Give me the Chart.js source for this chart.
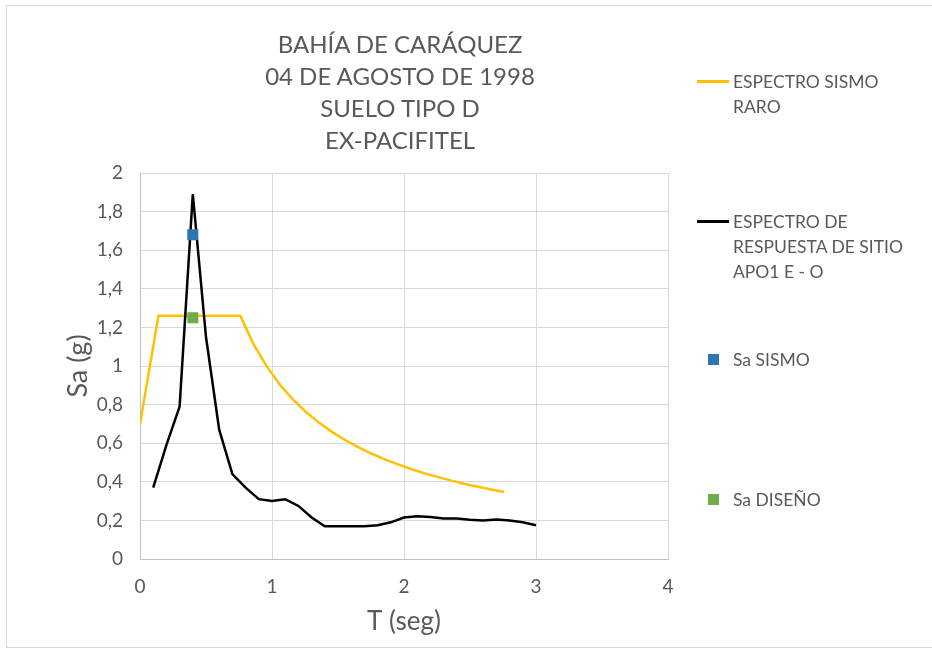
<!DOCTYPE html>
<html>
<head>
<meta charset="utf-8">
<script src="https://cdn.jsdelivr.net/npm/chart.js@4.4.1/dist/chart.umd.min.js"></script>
<style>
  html, body { margin: 0; padding: 0; background: #fff; overflow: hidden; }
  body { width: 932px; height: 651px; position: relative; font-family: Lato, "Open Sans", sans-serif; color: #595959; }
  #frame { position: absolute; left: 6px; top: 5px; width: 960px; height: 643px; border: 1px solid #d9d9d9; box-sizing: border-box; }
  #wrap { position: absolute; left: 0; top: 0; width: 932px; height: 651px; }
  #title { position: absolute; left: 200px; width: 400px; top: 28px; text-align: center; font-size: 24px; line-height: 32px; }
  .leg { position: absolute; left: 697px; font-size: 17.5px; line-height: 25px; }
  .leg .txt { position: absolute; left: 36px; top: 0; white-space: nowrap; }
  .leg .ln { position: absolute; left: 0; top: 11px; width: 32px; height: 2.5px; }
  .leg .sq { position: absolute; left: 11px; top: 7px; width: 11px; height: 11px; }
</style>
</head>
<body>
<div id="frame"></div>
<div id="wrap"><canvas id="chart" width="932" height="651"></canvas></div>
<div id="title">BAHÍA DE CARÁQUEZ<br>04 DE AGOSTO DE 1998<br>SUELO TIPO D<br>EX-PACIFITEL</div>
<div id="legend"></div>
<script>
// Espectro de diseño (sismo raro), NEC suelo tipo D
const rareT = [0, 0.14, 0.76, 0.86, 0.96, 1.06, 1.16, 1.26, 1.36, 1.46, 1.56, 1.66, 1.76,
  1.86, 1.96, 2.06, 2.16, 2.26, 2.36, 2.46, 2.56, 2.66, 2.76];
const rareSa = [0.70, 1.26, 1.26, 1.113, 0.998, 0.903, 0.826, 0.760, 0.704, 0.656, 0.614, 0.577, 0.544,
  0.515, 0.489, 0.465, 0.443, 0.424, 0.406, 0.389, 0.374, 0.360, 0.347];

// Espectro de respuesta del sitio, registro APO1 componente E - O
const siteT = [0.1, 0.2, 0.3, 0.4, 0.5, 0.6, 0.7, 0.8, 0.9, 1.0, 1.1, 1.2, 1.3, 1.4, 1.5,
  1.6, 1.7, 1.8, 1.9, 2.0, 2.1, 2.2, 2.3, 2.4, 2.5, 2.6, 2.7, 2.8, 2.9, 3.0];
const siteSa = [0.37, 0.59, 0.79, 1.89, 1.15, 0.67, 0.44, 0.37, 0.31, 0.30, 0.31, 0.275, 0.215, 0.17, 0.17,
  0.17, 0.17, 0.175, 0.19, 0.215, 0.222, 0.218, 0.21, 0.21, 0.203, 0.199, 0.205, 0.20, 0.19, 0.175];

// Puntos de control en T = 0,4 s
const sismoPoint = [0.4, 1.68];
const disenoPoint = [0.4, 1.25];

const xTicks = [0, 1, 2, 3, 4];
const yTicks = [0, 0.2, 0.4, 0.6, 0.8, 1, 1.2, 1.4, 1.6, 1.8, 2];

const gray = '#595959';
const toXY = (xs, ys) => xs.map((x, i) => ({ x: x, y: ys[i] }));
const comma = v => String(Math.round(v * 10) / 10).replace('.', ',');

const datasets = [
  { label: 'ESPECTRO SISMO RARO', data: toXY(rareT, rareSa), showLine: true, borderColor: '#FFC000',
    borderWidth: 2.5, pointRadius: 0, order: 3 },
  { label: 'ESPECTRO DE RESPUESTA DE SITIO APO1 E - O', data: toXY(siteT, siteSa), showLine: true,
    borderColor: '#000000', borderWidth: 2.5, pointRadius: 0, order: 2 },
  { label: 'Sa SISMO', data: [{ x: sismoPoint[0], y: sismoPoint[1] }], pointStyle: 'rect', pointRadius: 7.8,
    backgroundColor: '#2E75B6', borderColor: '#2E75B6', borderWidth: 0, order: 1 },
  { label: 'Sa DISEÑO', data: [{ x: disenoPoint[0], y: disenoPoint[1] }], pointStyle: 'rect', pointRadius: 7.8,
    backgroundColor: '#70AD47', borderColor: '#70AD47', borderWidth: 0, order: 1 }
];

new Chart(document.getElementById('chart'), {
  type: 'scatter',
  data: { datasets: datasets },
  options: {
    responsive: false,
    animation: false,
    layout: { padding: { left: 62, right: 264, top: 173, bottom: 14 } },
    plugins: { legend: { display: false }, tooltip: { enabled: false } },
    scales: {
      x: {
        type: 'linear', min: 0, max: 4,
        afterBuildTicks: s => { s.ticks = xTicks.map(v => ({ value: v })); },
        afterFit: s => { s.height = 78; },
        grid: { color: '#d9d9d9', drawTicks: false },
        border: { color: '#bfbfbf' },
        ticks: { padding: 16, color: gray, font: { family: 'Lato', size: 19 }, callback: v => comma(v) },
        title: { display: true, text: 'T (seg)', color: gray, padding: 0, font: { family: 'Lato', size: 26 } }
      },
      y: {
        type: 'linear', min: 0, max: 2,
        afterBuildTicks: s => { s.ticks = yTicks.map(v => ({ value: v })); },
        afterFit: s => { s.width = 78; },
        grid: { color: '#d9d9d9', drawTicks: false },
        border: { color: '#bfbfbf' },
        ticks: { padding: 17, color: gray, font: { family: 'Lato', size: 19 }, callback: v => comma(v) },
        title: { display: true, text: 'Sa (g)', color: gray, padding: 0, font: { family: 'Lato', size: 27 } }
      }
    }
  }
});

// Leyenda a la derecha con texto en varias líneas
const legendItems = [
  { top: 69, lines: ['ESPECTRO SISMO', 'RARO'], type: 'ln', color: datasets[0].borderColor },
  { top: 209, lines: ['ESPECTRO DE', 'RESPUESTA DE SITIO', 'APO1 E - O'], type: 'ln', color: datasets[1].borderColor },
  { top: 347, lines: ['Sa SISMO'], type: 'sq', color: datasets[2].backgroundColor },
  { top: 487, lines: ['Sa DISEÑO'], type: 'sq', color: datasets[3].backgroundColor }
];
const legend = document.getElementById('legend');
legendItems.forEach(item => {
  const el = document.createElement('div');
  el.className = 'leg';
  el.style.top = item.top + 'px';
  const mark = document.createElement('div');
  mark.className = item.type;
  mark.style.background = item.color;
  const txt = document.createElement('div');
  txt.className = 'txt';
  txt.innerHTML = item.lines.join('<br>');
  el.appendChild(mark);
  el.appendChild(txt);
  legend.appendChild(el);
});
</script>
</body>
</html>
